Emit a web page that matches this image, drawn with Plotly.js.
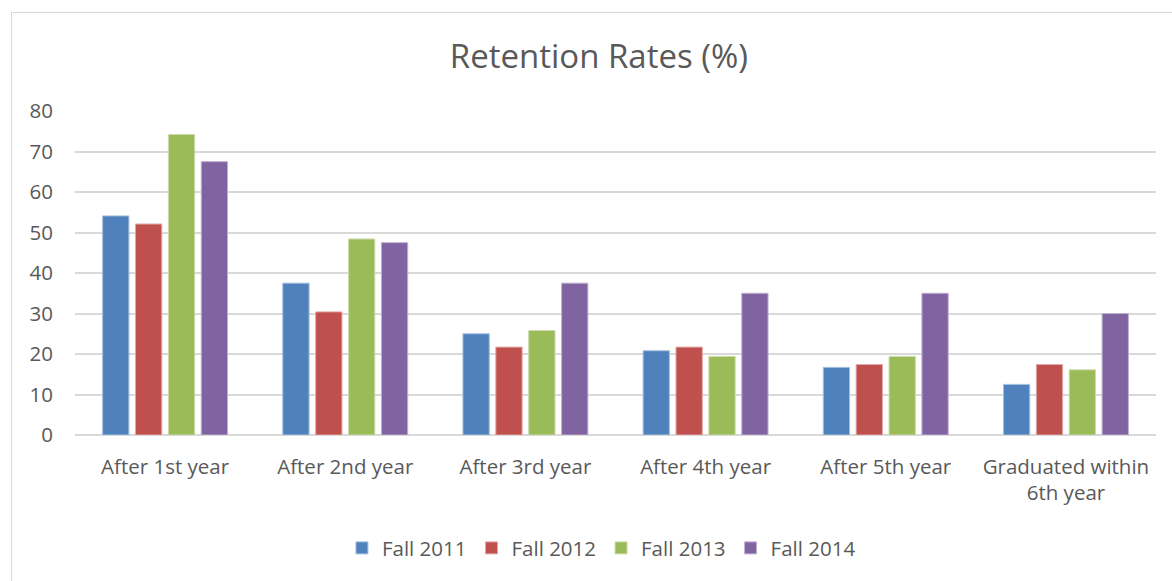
<!DOCTYPE html>
<html>
<head>
<meta charset="utf-8">
<script src="https://cdn.plot.ly/plotly-3.0.1.min.js"></script>
<style>
html,body{margin:0;padding:0;background:#fff;}
#wrap{position:relative;width:1172px;height:581px;overflow:hidden;}
#chart{width:1172px;height:581px;}
#frame{position:absolute;left:11px;top:12px;width:1200px;height:600px;border-left:1px solid #d9d9d9;border-top:1px solid #d9d9d9;pointer-events:none;}
</style>
</head>
<body>
<div id="wrap"><div id="chart"></div><div id="frame"></div></div>
<script>
const categories = ["After 1st year", "After 2nd year", "After 3rd year", "After 4th year", "After 5th year", "Graduated within<br>6th year"];
const seriesNames = ["Fall 2011", "Fall 2012", "Fall 2013", "Fall 2014"];
const fall2011 = [54.1, 37.5, 25.0, 20.8, 16.7, 12.5];
const fall2012 = [52.1, 30.4, 21.7, 21.7, 17.4, 17.4];
const fall2013 = [74.2, 48.4, 25.8, 19.4, 19.4, 16.1];
const fall2014 = [67.5, 47.5, 37.5, 35.0, 35.0, 30.0];
const colors = ["#4f81bd", "#c0504d", "#9bbb59", "#8064a2"];
const lineColors = ["#a7c0de", "#e0a8a6", "#cddcac", "#bfb1d0"];
const values = [fall2011, fall2012, fall2013, fall2014];

const font = "'Open Sans', 'Noto Sans', 'Liberation Sans', sans-serif";
const traces = values.map((v, i) => ({
  type: "bar",
  name: seriesNames[i],
  x: categories,
  y: v,
  marker: {color: colors[i], line: {color: lineColors[i], width: 1}},
  hoverinfo: "y"
}));

const layout = {
  width: 1172, height: 581,
  margin: {l: 75, r: 16, t: 111, b: 146},
  paper_bgcolor: "#fff", plot_bgcolor: "#fff",
  title: {text: "Retention Rates (%)", font: {family: font, size: 33, color: "#595959"}, x: 0.511, xanchor: "center", y: 0.902, yanchor: "middle"},
  barmode: "group",
  bargap: 0.27,
  bargroupgap: 0.2,
  xaxis: {
    tickfont: {family: font, size: 20.5, color: "#595959"},
    showgrid: false, zeroline: false, showline: false, ticks: "",
    ticklabelstandoff: 17
  },
  yaxis: {
    range: [0, 80], dtick: 10, tick0: 0,
    tickfont: {family: font, size: 20.5, color: "#595959"},
    gridcolor: "#d9d9d9", gridwidth: 2,
    zeroline: true, zerolinecolor: "#d9d9d9", zerolinewidth: 2,
    showline: false, ticks: "", ticklabelstandoff: 21
  },
  legend: {
    orientation: "h", x: 0.487, xanchor: "center", y: -0.349, yanchor: "middle",
    font: {family: font, size: 20.5, color: "#595959"},
    itemwidth: 30, traceorder: "normal"
  },
  showlegend: true
};

Plotly.newPlot("chart", traces, layout, {displayModeBar: false, staticPlot: true});
</script>
</body>
</html>
